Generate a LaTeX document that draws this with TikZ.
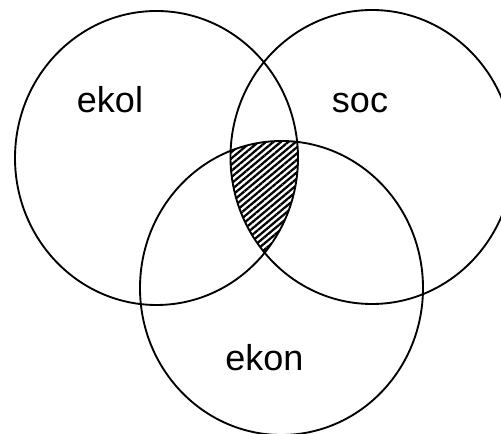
\documentclass[tikz,border=0pt]{standalone}
\usepackage{fontspec}
\setmainfont{Liberation Sans}
\usetikzlibrary{patterns.meta}
\tikzset{
  setline/.style={line width=1.4pt, black},
  setlabel/.style={anchor=base, inner sep=0pt, font=\fontsize{27pt}{30pt}\selectfont},
  hatch/.style={pattern={Lines[angle=40, distance=3.6pt, line width=1.7pt]}}
}
\begin{document}
\begin{tikzpicture}[x=0.75pt, y=-0.75pt]
			\useasboundingbox (0,0) rectangle (501,434);
			\clip (0,0) rectangle (501,434);
			%--
			\coordinate (ekolc) at (156.5,158);
			\coordinate (socc) at (372,157);
			\coordinate (ekonc) at (281.5,288);
			%-- shaded common part
			\begin{scope}
				\clip (ekolc) ellipse [x radius=141.5, y radius=147];
				\clip (socc) ellipse [x radius=141.5, y radius=147];
				\fill[hatch] (ekonc) ellipse [x radius=141.5, y radius=147];
			\end{scope}
			%--
			\draw[setline] (ekolc) ellipse [x radius=141.5, y radius=147];
			\draw[setline] (socc) ellipse [x radius=141.5, y radius=147];
			\draw[setline] (ekonc) ellipse [x radius=141.5, y radius=147];
			%--
			\node[setlabel] (ekol) at (110,113) {ekol};
			\node[setlabel] (soc) at (360,113) {soc};
			\node[setlabel] (ekon) at (264.5,371) {ekon};
		\end{tikzpicture}
\end{document}
